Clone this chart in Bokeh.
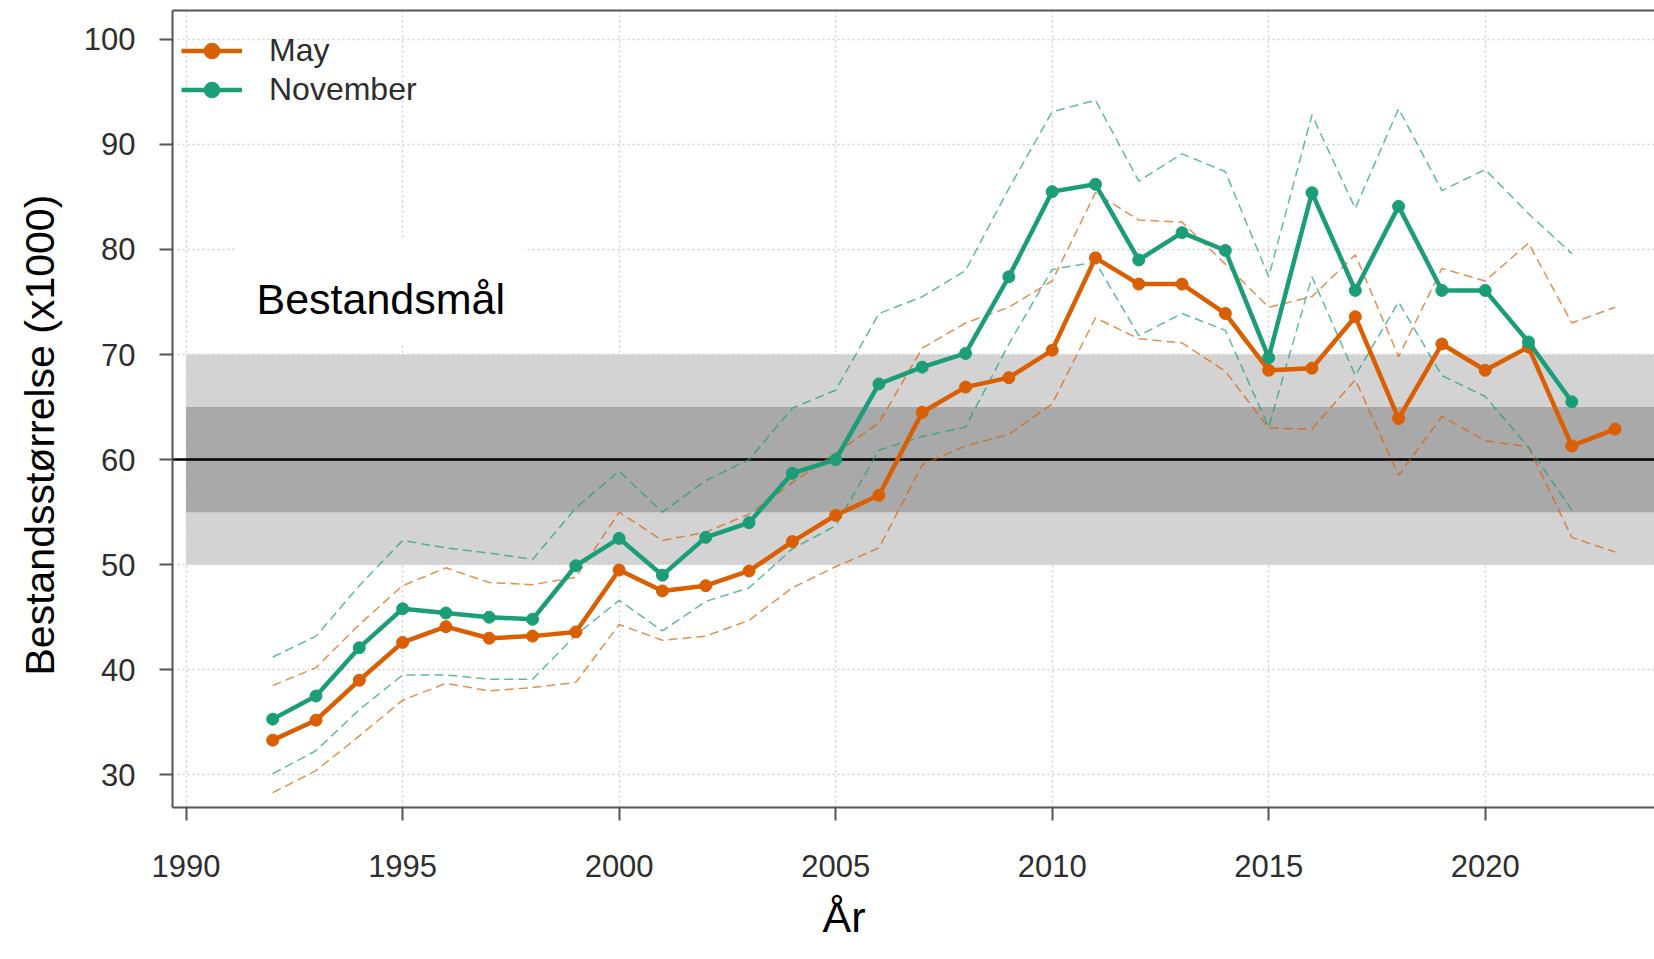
import math
from bokeh.plotting import figure
from bokeh.models import (Range1d, FixedTicker, LinearAxis, Legend, LegendItem, Label, Title)
from bokeh.embed import file_html
from bokeh.resources import INLINE

# ---------------- data ----------------
years_may = list(range(1992, 2024))
years_nov = list(range(1992, 2023))

may = [33.3, 35.2, 39.0, 42.6, 44.1, 43.0, 43.2, 43.6, 49.5, 47.5, 48.0, 49.4, 52.2, 54.7,
       56.6, 64.5, 66.9, 67.8, 70.4, 79.2, 76.7, 76.7, 73.9, 68.5, 68.7, 73.6, 63.9, 71.0,
       68.5, 70.7, 61.3, 62.9]
may_hi = [38.5, 40.2, 44.3, 48.0, 49.7, 48.3, 48.1, 48.8, 55.0, 52.3, 53.1, 54.8, 57.8, 60.6,
          63.5, 70.6, 73.0, 74.5, 77.0, 85.4, 82.8, 82.6, 78.6, 74.5, 75.5, 79.5, 69.8, 78.2,
          77.0, 80.6, 73.0, 74.5]
may_lo = [28.3, 30.4, 33.7, 37.1, 38.7, 38.0, 38.3, 38.8, 44.3, 42.8, 43.2, 44.7, 47.8, 49.8,
          51.6, 59.5, 61.3, 62.4, 65.3, 73.5, 71.5, 71.1, 68.4, 63.0, 62.9, 67.6, 58.5, 64.1,
          61.8, 61.2, 52.6, 51.2]

nov = [35.3, 37.5, 42.1, 45.8, 45.4, 45.0, 44.8, 49.9, 52.5, 49.0, 52.6, 54.0, 58.7, 60.0,
       67.2, 68.8, 70.1, 77.4, 85.5, 86.2, 79.0, 81.6, 79.9, 69.7, 85.4, 76.1, 84.1, 76.1,
       76.1, 71.2, 65.5]
nov_hi = [41.2, 43.2, 48.0, 52.3, 51.6, 51.1, 50.5, 55.4, 58.9, 55.0, 58.0, 60.0, 64.9, 66.6,
          73.9, 75.5, 78.0, 85.8, 93.1, 94.2, 86.5, 89.1, 87.4, 77.4, 92.8, 83.9, 93.4, 85.6,
          87.6, 83.4, 79.6]
nov_lo = [30.1, 32.3, 36.2, 39.5, 39.5, 39.1, 39.1, 43.3, 46.6, 43.7, 46.5, 47.8, 51.5, 53.7,
          60.9, 62.2, 63.1, 71.0, 78.1, 78.8, 71.8, 73.9, 72.3, 63.1, 77.4, 68.0, 75.0, 68.0,
          66.0, 61.2, 55.2]

target = 60
band_outer = [50, 70]
band_inner = [55, 65]
band_span = [1990, 2030]

x_ticks = [1990, 1995, 2000, 2005, 2010, 2015, 2020]
y_ticks = [30, 40, 50, 60, 70, 80, 90, 100]

# ---------------- style ----------------
C_MAY = "#D95F02"
C_NOV = "#1B9E77"
FONT = "Liberation Sans"
TICK_COL = "#2e2e2e"
AX_COL = "#555555"

W, H = 1654, 959
FR_L, FR_R, FR_T, FR_B = 172.0, 1654.0, 10.0, 807.0
x_rng = Range1d(1989.686, 2023.91)
y_rng = Range1d(26.89, 102.74)

p = figure(width=W, height=H, x_range=x_rng, y_range=y_rng,
           output_backend="svg", toolbar_location=None,
           min_border_left=int(FR_L), min_border_right=0, min_border_top=int(FR_T),
           min_border_bottom=int(H - FR_B))
p.outline_line_color = None
p.background_fill_color = "white"

# axes
for ax in (p.xaxis[0], p.yaxis[0]):
    ax.axis_line_color = AX_COL
    ax.axis_line_width = 2
    ax.major_tick_line_color = AX_COL
    ax.major_tick_line_width = 2
    ax.major_tick_in = 0
    ax.major_tick_out = 13
    ax.minor_tick_line_color = None
    ax.major_label_text_font = FONT
    ax.major_label_text_font_size = "31px"
    ax.major_label_text_color = TICK_COL
p.xaxis.ticker = FixedTicker(ticks=x_ticks)
p.yaxis.ticker = FixedTicker(ticks=y_ticks)
p.xaxis.major_label_standoff = 34
p.yaxis.major_label_standoff = 24

top_ax = LinearAxis(ticker=FixedTicker(ticks=[]), axis_line_color=AX_COL,
                    axis_line_width=2, major_tick_line_color=None,
                    minor_tick_line_color=None, major_label_standoff=0)
p.add_layout(top_ax, "above")

# grid
for g in (p.xgrid[0], p.ygrid[0]):
    g.grid_line_color = "#cfcfcf"
    g.grid_line_dash = "2 3"
    g.grid_line_width = 1.5
p.xgrid.ticker = FixedTicker(ticks=x_ticks)
p.ygrid.ticker = FixedTicker(ticks=y_ticks)

# bands
p.quad(left=[band_span[0]], right=[band_span[1]], bottom=[band_outer[0]], top=[band_outer[1]],
       fill_color="#d3d3d3", line_color=None)
p.quad(left=[band_span[0]], right=[band_span[1]], bottom=[band_inner[0]], top=[band_inner[1]],
       fill_color="#a9a9a9", line_color=None)
p.hspan(y=[target], line_color="black", line_width=2.5)

# confidence (dashed) lines
for ys, col, yr in ((may_hi, C_MAY, years_may), (may_lo, C_MAY, years_may),
                    (nov_hi, C_NOV, years_nov), (nov_lo, C_NOV, years_nov)):
    p.line(yr, ys, line_color=col, line_width=1.5, line_alpha=0.7, line_dash="9 5")

# main lines
l_may = p.line(years_may, may, line_color=C_MAY, line_width=4.5)
s_may = p.scatter(years_may, may, size=12, fill_color=C_MAY, line_color=C_MAY)
l_nov = p.line(years_nov, nov, line_color=C_NOV, line_width=4.5)
s_nov = p.scatter(years_nov, nov, size=12, fill_color=C_NOV, line_color=C_NOV)

legend = Legend(items=[LegendItem(label="May", renderers=[l_may, s_may]),
                       LegendItem(label="November", renderers=[l_nov, s_nov])],
                location=(9, 698), padding=0, margin=0, spacing=0,
                glyph_width=61, glyph_height=39, label_height=39,
                label_standoff=27, label_text_font=FONT,
                label_text_font_size="32px", label_text_color=TICK_COL,
                background_fill_alpha=0, border_line_color=None)
p.add_layout(legend)

def dx(px):
    return x_rng.start + (px - FR_L) / (FR_R - FR_L) * (x_rng.end - x_rng.start)
def dy(py):
    return y_rng.end - (py - FR_T) / (FR_B - FR_T) * (y_rng.end - y_rng.start)

p.add_layout(Label(x=dx(236), y=dy(291), text="Bestandsmål", text_font=FONT,
                   text_font_size="43px", text_color="black", text_baseline="middle",
                   text_align="left", background_fill_color="white",
                   padding=(20, 22, 36, 22)))

x_title = Title(text="År", align="left", offset=822 - FR_L, text_font=FONT,
                text_font_size="43px", text_font_style="normal", text_color="black",
                standoff=22, vertical_align="bottom")
p.add_layout(x_title, "below")

y_title = Title(text="Bestandsstørrelse (x1000)", align="left", offset=FR_B - 675,
                text_font=FONT, text_font_size="41px", text_font_style="normal",
                text_color="black", standoff=32, vertical_align="top")
p.add_layout(y_title, "left")

open("out.html", "w").write(file_html(p, INLINE))
